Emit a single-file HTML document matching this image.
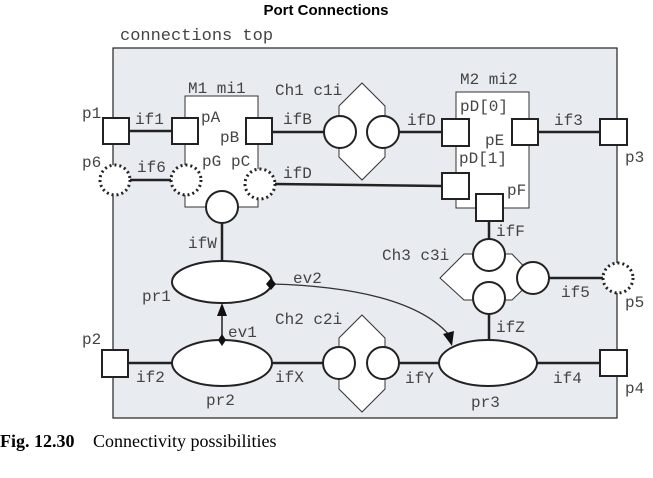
<!DOCTYPE html>
<html><head><meta charset="utf-8"><style>
html,body{margin:0;padding:0;background:#fff;}
svg{display:block;}
.m{font-family:"Liberation Mono",monospace;font-size:16px;fill:#444;}
</style></head><body>
<svg width="653" height="478" viewBox="0 0 653 478">
<text x="326" y="15" text-anchor="middle" style="font-family:'Liberation Sans',sans-serif;font-weight:bold;font-size:15px">Port Connections</text>
<text x="120" y="40" class="m" style="font-size:17px">connections top</text>
<rect x="113" y="48" width="504" height="370" fill="#e8ebef" stroke="#222" stroke-width="1.2"/>
<rect x="185" y="96" width="73" height="111" fill="#fff" stroke="#333" stroke-width="1"/>
<rect x="456" y="92" width="73" height="116" fill="#fff" stroke="#333" stroke-width="1"/>
<g stroke="#222" stroke-width="2.5" fill="none">
<line x1="129" y1="131" x2="172" y2="131"/>
<line x1="130" y1="180" x2="171" y2="180"/>
<line x1="272" y1="132" x2="324" y2="132"/>
<line x1="399" y1="132" x2="442" y2="132"/>
<line x1="538" y1="132" x2="599" y2="132"/>
<line x1="275" y1="184" x2="442" y2="186"/>
<line x1="222" y1="223" x2="222" y2="261"/>
<line x1="489" y1="221" x2="489" y2="239"/>
<line x1="489" y1="314" x2="489" y2="340"/>
<line x1="549" y1="278" x2="603" y2="278"/>
<line x1="128" y1="363" x2="172" y2="363"/>
<line x1="272" y1="363" x2="323" y2="363"/>
<line x1="399" y1="363" x2="440" y2="363"/>
<line x1="537" y1="363" x2="599" y2="363"/>
</g>
<polygon points="362,83 385,106 385,157 362,180 339,157 339,106" fill="#fff" stroke="#333"/>
<polygon points="362,315 385,338 385,389 362,412 339,389 339,338" fill="#fff" stroke="#333"/>
<polygon points="440,278 464,254 512,254 535,278 512,300 464,300" fill="#fff" stroke="#333"/>
<g fill="#fff" stroke="#222" stroke-width="2">
<circle cx="340" cy="132" r="16"/><circle cx="383" cy="132" r="16"/>
<circle cx="339" cy="363" r="16"/><circle cx="383" cy="363" r="16"/>
<circle cx="489" cy="255" r="16"/><circle cx="489" cy="298" r="16"/><circle cx="533" cy="278" r="16"/>
<circle cx="222" cy="207" r="16"/>
<rect x="103" y="118" width="26" height="26"/>
<rect x="172" y="118" width="26" height="26"/>
<rect x="246" y="118" width="26" height="26"/>
<rect x="442" y="119" width="27" height="27"/>
<rect x="512" y="119" width="26" height="26"/>
<rect x="600" y="119" width="27" height="26"/>
<rect x="442" y="173" width="27" height="26"/>
<rect x="476" y="194" width="27" height="27"/>
<rect x="102" y="350" width="26" height="27"/>
<rect x="600" y="350" width="27" height="26"/>
<ellipse cx="222" cy="282" rx="50" ry="21"/>
<ellipse cx="222" cy="363" rx="50" ry="23"/>
<ellipse cx="488" cy="363" rx="49" ry="23"/>
</g>
<g fill="#fff" stroke="#222" stroke-width="3" stroke-dasharray="2,3">
<circle cx="115" cy="180" r="15"/>
<circle cx="186" cy="180" r="15"/>
<circle cx="260" cy="184" r="15"/>
<circle cx="618" cy="278" r="15"/>
</g>
<line x1="222" y1="340" x2="222" y2="312" stroke="#222" stroke-width="1.5"/>
<polygon points="222,303 217,316 227,316" fill="#111"/>
<polygon points="222,334 226,340 222,346 218,340" fill="#111"/>
<path d="M271,284 C350,286 420,300 450,336" fill="none" stroke="#333" stroke-width="1.3"/>
<polygon points="452,346 443,334 454,331" fill="#111"/>
<polygon points="271,278 276,284 271,290 266,284" fill="#111"/>
<g class="m">
<text x="82" y="118">p1</text><text x="135" y="124">if1</text><text x="201" y="122">pA</text>
<text x="220" y="142">pB</text><text x="188" y="93">M1 mi1</text><text x="275" y="95">Ch1 c1i</text>
<text x="283" y="124">ifB</text><text x="407" y="125">ifD</text><text x="460" y="84">M2 mi2</text>
<text x="460" y="111">pD[0]</text><text x="485" y="145">pE</text><text x="459" y="163">pD[1]</text>
<text x="554" y="125">if3</text><text x="625" y="162">p3</text><text x="82" y="167">p6</text>
<text x="137" y="172">if6</text><text x="202" y="166">pG</text><text x="231" y="166">pC</text>
<text x="283" y="178">ifD</text><text x="507" y="195">pF</text><text x="496" y="236">ifF</text>
<text x="382" y="260">Ch3 c3i</text><text x="561" y="297">if5</text><text x="625" y="307">p5</text>
<text x="188" y="248">ifW</text><text x="142" y="301">pr1</text><text x="293" y="283">ev2</text>
<text x="496" y="332">ifZ</text><text x="228" y="337">ev1</text><text x="275" y="324">Ch2 c2i</text>
<text x="82" y="344">p2</text><text x="136" y="382">if2</text><text x="275" y="382">ifX</text>
<text x="405" y="383">ifY</text><text x="206" y="405">pr2</text><text x="471" y="407">pr3</text>
<text x="553" y="383">if4</text><text x="625" y="393">p4</text>
</g>
<text x="0" y="447" style="font-family:'Liberation Serif',serif;font-size:18px;font-weight:bold">Fig. 12.30</text>
<text x="93" y="447" style="font-family:'Liberation Serif',serif;font-size:18px">Connectivity possibilities</text>
</svg>
</body></html>
